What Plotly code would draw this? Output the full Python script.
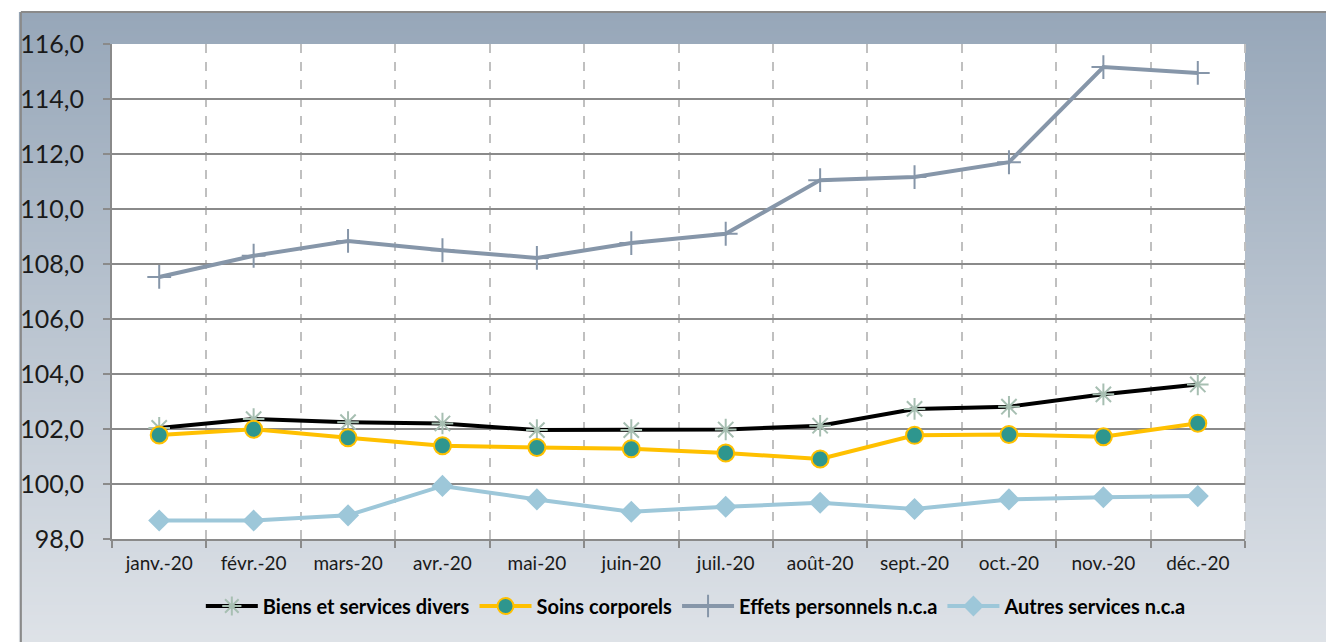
import base64, struct, zlib
import plotly.graph_objects as go

months = ["janv.-20", "févr.-20", "mars-20", "avr.-20", "mai-20", "juin-20",
          "juil.-20", "août-20", "sept.-20", "oct.-20", "nov.-20", "déc.-20"]
biens = [102.04, 102.36, 102.25, 102.2, 101.96, 101.96, 101.98, 102.12, 102.73, 102.81, 103.26, 103.62]
soins = [101.78, 101.99, 101.68, 101.39, 101.33, 101.28, 101.13, 100.91, 101.77, 101.8, 101.72, 102.21]
effets = [107.53, 108.3, 108.84, 108.5, 108.22, 108.76, 109.1, 111.05, 111.16, 111.7, 115.16, 114.95]
autres = [98.67, 98.67, 98.86, 99.93, 99.44, 98.99, 99.17, 99.32, 99.09, 99.44, 99.52, 99.56]
yticks = [98, 100, 102, 104, 106, 108, 110, 112, 114, 116]
ytext = ["98,0", "100,0", "102,0", "104,0", "106,0", "108,0", "110,0", "112,0", "114,0", "116,0"]


def gradient_png(top, bottom, h=256):
    rows = b""
    for i in range(h):
        t = i / (h - 1)
        c = bytes(int(round(top[k] + (bottom[k] - top[k]) * t)) for k in range(3))
        rows += b"\x00" + c
    def chunk(tag, data):
        return struct.pack(">I", len(data)) + tag + data + struct.pack(">I", zlib.crc32(tag + data) & 0xffffffff)
    png = b"\x89PNG\r\n\x1a\n"
    png += chunk(b"IHDR", struct.pack(">IIBBBBB", 1, h, 8, 2, 0, 0, 0))
    png += chunk(b"IDAT", zlib.compress(rows))
    png += chunk(b"IEND", b"")
    return "data:image/png;base64," + base64.b64encode(png).decode()


OFF = 8  # page body margin
W, H = 1334 - OFF, 642 - OFF
# screen-space plot box
SL, SR, ST, SB = 101, 1245, 44, 539
L, R, T, B = SL - OFF, SR - OFF, ST - OFF, SB - OFF
pw, ph = R - L, B - T


def px(x_screen):
    return (x_screen - OFF - L) / pw


def py(y_screen):
    return (B - (y_screen - OFF)) / ph


FONT = "Lato"

fig = go.Figure()
fig.add_trace(go.Scatter(
    x=months, y=biens, name="Biens et services divers", mode="lines+markers",
    line=dict(color="black", width=4),
    marker=dict(symbol="asterisk-open", size=18, color="#A7BFB2", line=dict(color="#A7BFB2", width=2))))
fig.add_trace(go.Scatter(
    x=months, y=soins, name="Soins corporels", mode="lines+markers",
    line=dict(color="#FFC000", width=4),
    marker=dict(symbol="circle", size=17, color="#2E968E", line=dict(color="#FFC000", width=2))))
fig.add_trace(go.Scatter(
    x=months, y=effets, name="Effets personnels n.c.a", mode="lines+markers",
    line=dict(color="#8696A9", width=4),
    marker=dict(symbol="cross-thin-open", size=17, color="#8696A9", line=dict(color="#8696A9", width=2))))
fig.add_trace(go.Scatter(
    x=months, y=autres, name="Autres services n.c.a", mode="lines+markers",
    line=dict(color="#9DC7D9", width=4),
    marker=dict(symbol="diamond", size=17, color="#9DC7D9")))

fig.update_layout(
    width=W, height=H,
    margin=dict(l=L, r=W - R, t=T, b=H - B),
    paper_bgcolor="white", plot_bgcolor="white",
    font=dict(family=FONT, color="#1a1a1a"),
    showlegend=True,
    legend=dict(orientation="h", x=px(691), xanchor="center", y=py(606), yanchor="middle",
                font=dict(family=FONT, size=20, color="black", weight="bold"),
                bgcolor="rgba(0,0,0,0)", itemwidth=52, tracegroupgap=0),
    images=[dict(source=gradient_png((151, 167, 185), (224, 228, 233)),
                 xref="paper", yref="paper", x=px(7), y=py(12),
                 sizex=(1334 + 20) / pw, sizey=(642 + 20 - 12) / ph,
                 sizing="stretch", layer="below", xanchor="left", yanchor="top")],
    shapes=[
        dict(type="rect", xref="paper", yref="paper", x0=0, x1=1, y0=0, y1=1,
             fillcolor="white", line=dict(width=0), layer="below"),
        dict(type="line", xref="paper", yref="paper", x0=px(9), x1=px(1340), y0=py(12), y1=py(12),
             line=dict(color="#8A8A8A", width=2), layer="below"),
        dict(type="line", xref="paper", yref="paper", x0=px(9), x1=px(9), y0=py(12), y1=py(660),
             line=dict(color="#8A8A8A", width=2), layer="below"),
        dict(type="line", xref="paper", yref="paper", x0=1, x1=1, y0=0, y1=1,
             line=dict(color="#BFBFBF", width=2, dash="dash"), layer="below"),
    ],
)

fig.update_xaxes(
    type="category", range=[-0.5, 11.5], tickson="boundaries",
    showgrid=True, gridcolor="#C0C0C0", gridwidth=2, griddash="dash",
    showline=True, linecolor="#8A8A8A", linewidth=2,
    ticks="outside", ticklen=7, tickcolor="#8A8A8A", tickwidth=2,
    tickfont=dict(family=FONT, size=19, color="#1a1a1a"), ticklabelstandoff=6,
    fixedrange=True)
fig.update_yaxes(
    range=[98, 116], tickvals=yticks, ticktext=ytext,
    showgrid=True, gridcolor="#8A8A8A", gridwidth=2,
    showline=True, linecolor="#8A8A8A", linewidth=2,
    ticks="outside", ticklen=7, tickcolor="#8A8A8A", tickwidth=2,
    tickfont=dict(family=FONT, size=25, color="#1a1a1a"), ticklabelstandoff=14,
    zeroline=False, fixedrange=True)

fig.write_html("out.html")
